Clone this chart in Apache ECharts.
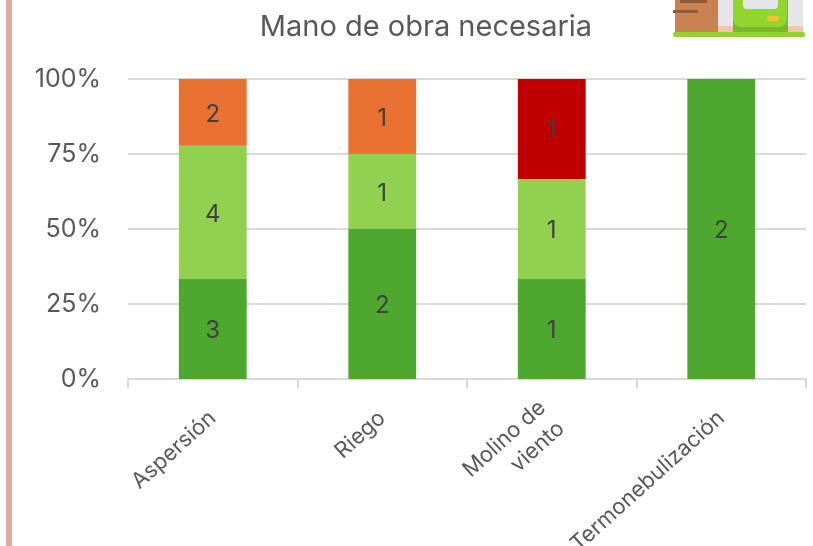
<!DOCTYPE html>
<html>
<head>
<meta charset="utf-8">
<style>
  html, body { margin: 0; padding: 0; background: #fff; }
  #chart { width: 813px; height: 546px; }
</style>
</head>
<body>
<div id="chart"></div>
<script src="https://cdn.jsdelivr.net/npm/echarts@6/dist/echarts.min.js"></script>
<script>
const categories = ['Aspersión', 'Riego', 'Molino de\nviento', 'Termonebulización']
const darkGreen = [3, 2, 1, 2]
const lightGreen = [4, 1, 1, 0]
const orange = [2, 1, 0, 0]
const red = [0, 0, 1, 0]
const yTicks = [0, 25, 50, 75, 100]

const FONT = 'Inter, "Noto Sans", sans-serif'
const TEXT = '#404040'

const totals = categories.map((_, i) => darkGreen[i] + lightGreen[i] + orange[i] + red[i])

function makeSeries(name, values, color) {
  return {
    name, type: 'bar', stack: 'total', barWidth: '40%',
    // 100% stacked: bar height is the share, the label keeps the raw count
    data: values.map((v, i) => v === 0 ? null : { value: v / totals[i] * 100, raw: v }),
    itemStyle: { color },
    label: {
      show: true, position: 'inside', offset: [0, 2], color: TEXT, fontSize: 24, fontFamily: FONT,
      formatter: p => p.data ? p.data.raw : ''
    }
  }
}

const chart = echarts.init(document.getElementById('chart'), null, { renderer: 'canvas' })
chart.setOption({
  animation: false,
  backgroundColor: '#fff',
  title: {
    text: 'Mano de obra necesaria', left: 421, top: 8, textAlign: 'center',
    textStyle: { color: '#595959', fontSize: 29, fontWeight: 'normal', fontFamily: FONT }
  },
  grid: { left: 128, right: 7, top: 79, bottom: 167, outerBoundsMode: 'none' },
  xAxis: {
    type: 'category', data: categories,
    axisLine: { lineStyle: { color: '#d9d9d9', width: 2 } },
    axisTick: { show: true, length: 9, alignWithLabel: false, lineStyle: { color: '#d9d9d9', width: 2 } },
    axisLabel: { color: '#595959', fontSize: 22, fontFamily: FONT, rotate: 42, interval: 0, margin: 36, lineHeight: 28 }
  },
  yAxis: {
    type: 'value', min: yTicks[0], max: yTicks[yTicks.length - 1], interval: 25,
    axisLine: { show: false }, axisTick: { show: false },
    splitLine: { lineStyle: { color: '#d9d9d9', width: 2 } },
    axisLabel: { color: '#595959', fontSize: 25, fontFamily: FONT, margin: 27, padding: [3, 0, 0, 0], formatter: '{value}%' }
  },
  series: [
    makeSeries('Operario', darkGreen, '#4ea72e'),
    makeSeries('Ayudante', lightGreen, '#92d050'),
    makeSeries('Técnico', orange, '#e97132'),
    makeSeries('Especialista', red, '#c00000')
  ],
  graphic: [
    // left accent bar
    { type: 'rect', shape: { x: 6, y: 0, width: 6, height: 546 }, style: { fill: '#d9aca5' } },
    // clipped icon at the top right
    { type: 'rect', shape: { x: 675, y: 0, width: 43, height: 33 }, style: { fill: '#c98152' } },
    { type: 'rect', shape: { x: 680, y: 0, width: 27, height: 3 }, style: { fill: '#8f5a3a' } },
    { type: 'rect', shape: { x: 673, y: 10, width: 25, height: 3 }, style: { fill: '#8f5a3a' } },
    { type: 'rect', shape: { x: 718, y: 0, width: 85, height: 33 }, style: { fill: '#e6e6e9' } },
    { type: 'rect', shape: { x: 718, y: 26, width: 15, height: 7 }, style: { fill: '#f3c3ab' } },
    { type: 'rect', shape: { x: 788, y: 26, width: 15, height: 7 }, style: { fill: '#f3c3ab' } },
    { type: 'rect', shape: { x: 733, y: 0, width: 55, height: 33 }, style: { fill: '#7ab62e' } },
    { type: 'rect', shape: { x: 733, y: 0, width: 54, height: 27, r: [0, 0, 8, 8] }, style: { fill: '#92d530' } },
    { type: 'rect', shape: { x: 743, y: 0, width: 35, height: 9, r: [0, 0, 4, 4] }, style: { fill: '#e6e6e9' } },
    { type: 'rect', shape: { x: 767, y: 16, width: 12, height: 5, r: 2 }, style: { fill: '#fbc02d' } },
    { type: 'rect', shape: { x: 673, y: 32, width: 132, height: 5, r: 2 }, style: { fill: '#8fd433' } }
  ]
})
</script>
</body>
</html>
